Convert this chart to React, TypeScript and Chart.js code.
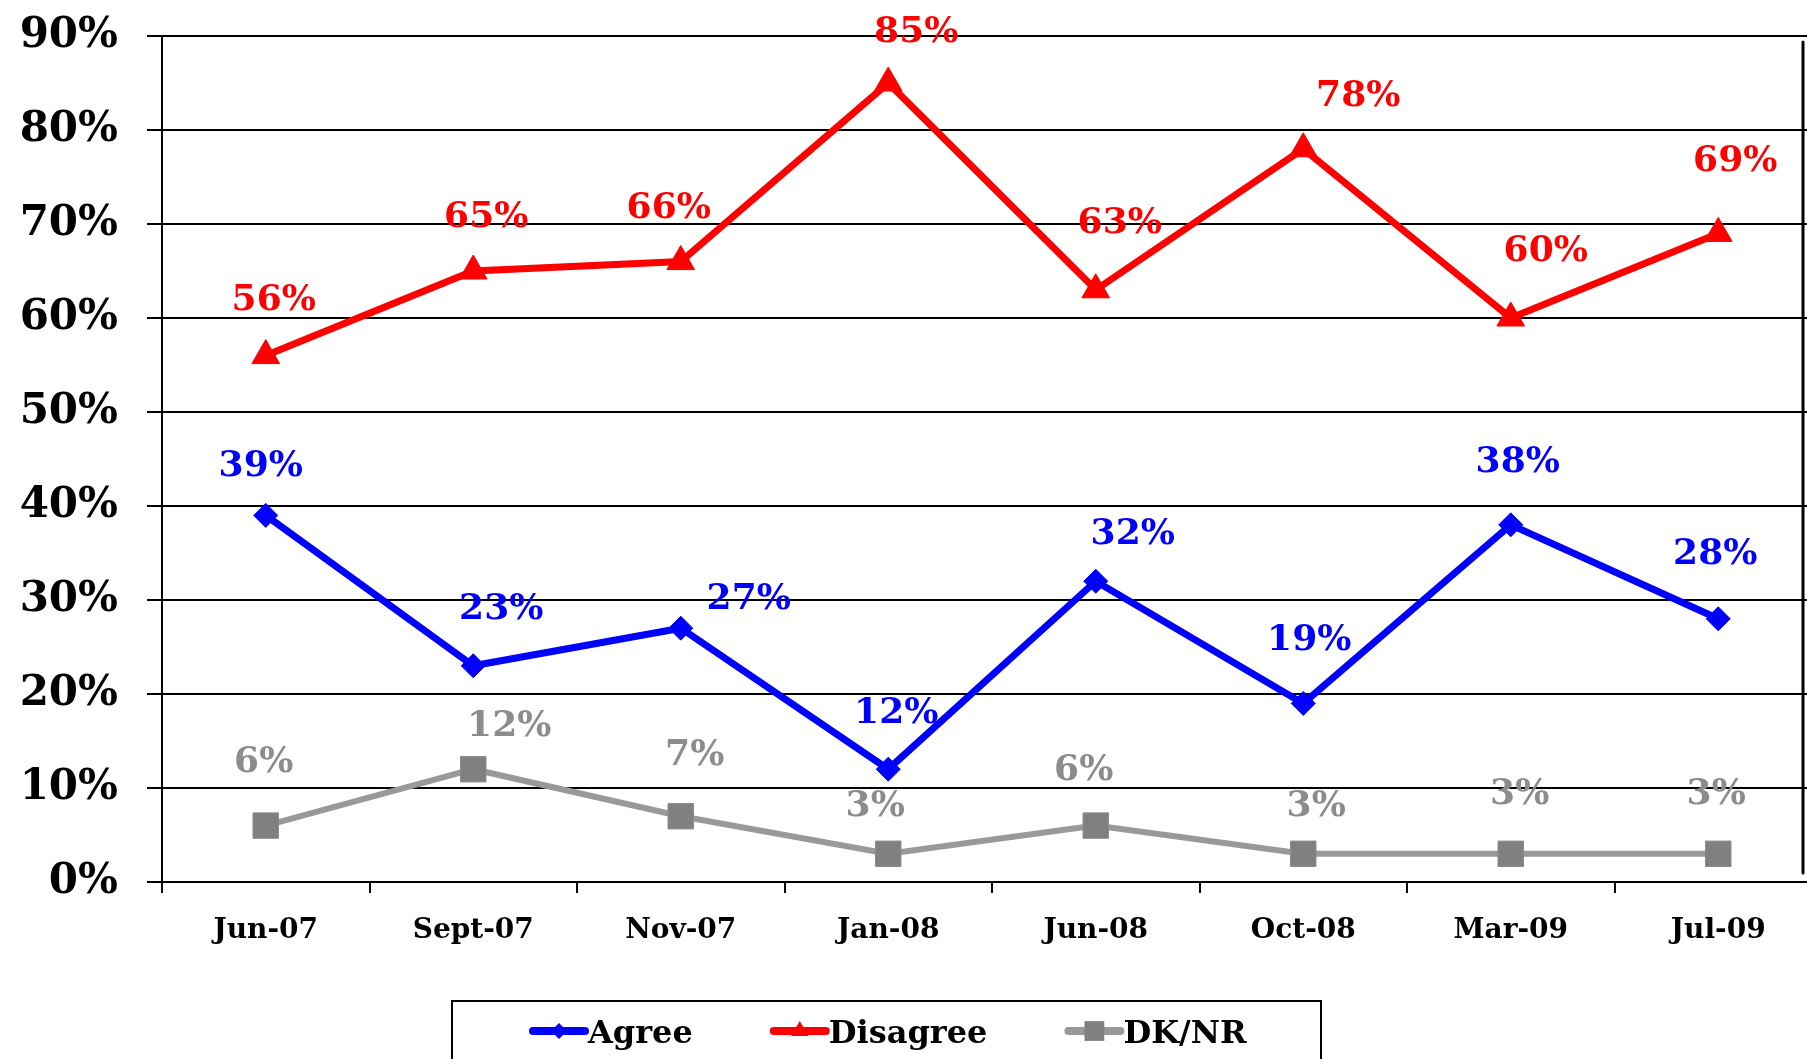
import React, { useEffect, useRef } from 'react';
import { Chart, registerables } from 'chart.js';

Chart.register(...registerables);

const FONT = "'DejaVu Serif', 'Liberation Serif', serif";

// ---- data ----
const categories = ['Jun-07', 'Sept-07', 'Nov-07', 'Jan-08', 'Jun-08', 'Oct-08', 'Mar-09', 'Jul-09'];
const agreeValues = [39, 23, 27, 12, 32, 19, 38, 28];
const disagreeValues = [56, 65, 66, 85, 63, 78, 60, 69];
const dkValues = [6, 12, 7, 3, 6, 3, 3, 3];
const seriesNames = ['Agree', 'Disagree', 'DK/NR'];
const yMin = 0;
const yMax = 90;
const yStep = 10;

// ---- label nudges (style only) ----
const agreeLabelNudge = [[-5, -49], [28, -56], [68, -29], [8, -56], [37, -47], [6, -63], [7, -62], [-3, -64]];
const disagreeLabelNudge = [[8, -55], [13, -53], [-12, -53], [28, -50], [24, -66], [55, -52], [35, -66], [17, -72]];
const dkLabelNudge = [[-2, -63], [36, -43], [14, -61], [-13, -47], [-12, -55], [13, -47], [9, -59], [-2, -59]];

const CANVAS_W = 1841;
const CANVAS_H = 1059;

const dataLabelPlugin = {
  id: 'dataLabels',
  afterDatasetsDraw(chart: any) {
    const ctx = chart.ctx;
    ctx.save();
    ctx.font = `bold 36px ${FONT}`;
    ctx.textAlign = 'center';
    ctx.textBaseline = 'middle';
    chart.data.datasets.forEach((ds: any, di: number) => {
      const meta = chart.getDatasetMeta(di);
      ctx.fillStyle = ds.labelColor;
      meta.data.forEach((pt: any, i: number) => {
        const n = ds.labelNudge[i] || [0, -50];
        ctx.fillText(`${ds.data[i]}%`, pt.x + n[0], pt.y + n[1]);
      });
    });
    ctx.restore();
  },
};

function drawMarker(ctx: CanvasRenderingContext2D, style: string, x: number, y: number, r: number, color: string) {
  ctx.fillStyle = color;
  ctx.beginPath();
  if (style === 'rectRot') {
    ctx.moveTo(x - r, y);
    ctx.lineTo(x, y - r);
    ctx.lineTo(x + r, y);
    ctx.lineTo(x, y + r);
  } else if (style === 'triangle') {
    ctx.moveTo(x, y - r);
    ctx.lineTo(x + r * 0.866, y + r * 0.5);
    ctx.lineTo(x - r * 0.866, y + r * 0.5);
  } else {
    const s = r * 0.7071;
    ctx.rect(x - s, y - s, 2 * s, 2 * s);
  }
  ctx.closePath();
  ctx.fill();
}

const legendPlugin = {
  id: 'boxLegend',
  afterDraw(chart: any) {
    const ctx = chart.ctx;
    ctx.save();
    const boxX = 452;
    const boxY = 1001;
    const boxW = 869;
    ctx.strokeStyle = '#000';
    ctx.lineWidth = 2;
    ctx.strokeRect(boxX, boxY, boxW, 90);
    ctx.font = `bold 32px ${FONT}`;
    ctx.textBaseline = 'alphabetic';
    ctx.textAlign = 'left';
    let x = boxX + 78;
    const cy = 1031;
    chart.data.datasets.forEach((ds: any) => {
      const lineLen = 58;
      ctx.strokeStyle = ds.borderColor;
      ctx.lineWidth = 8;
      ctx.lineCap = 'round';
      ctx.beginPath();
      ctx.moveTo(x + 3, cy);
      ctx.lineTo(x + lineLen - 3, cy);
      ctx.stroke();
      drawMarker(ctx, ds.pointStyle, x + lineLen / 2, cy, ds.legendMarker, ds.pointBackgroundColor);
      ctx.fillStyle = '#000';
      ctx.fillText(ds.label, x + lineLen, 1043);
      x += lineLen + ctx.measureText(ds.label).width + 78;
    });
    // right frame line
    ctx.strokeStyle = '#000';
    ctx.lineWidth = 3;
    ctx.beginPath();
    ctx.moveTo(1803, 42);
    ctx.lineTo(1803, 873);
    ctx.stroke();
    ctx.restore();
  },
};

export default function App() {
  const canvasRef = useRef<HTMLCanvasElement | null>(null);

  useEffect(() => {
    if (!canvasRef.current) return;
    const chart = new Chart(canvasRef.current, {
      type: 'line',
      data: {
        labels: categories,
        datasets: [
          {
            label: seriesNames[0],
            data: agreeValues,
            borderColor: '#0000FF',
            backgroundColor: '#0000FF',
            pointBackgroundColor: '#0000FF',
            pointBorderColor: '#0000FF',
            pointStyle: 'rectRot',
            pointRadius: 12,
            pointBorderWidth: 1,
            borderWidth: 7,
            tension: 0,
            labelColor: '#0000FF',
            labelNudge: agreeLabelNudge,
            legendMarker: 8,
          } as any,
          {
            label: seriesNames[1],
            data: disagreeValues,
            borderColor: '#FF0000',
            backgroundColor: '#FF0000',
            pointBackgroundColor: '#FF0000',
            pointBorderColor: '#FF0000',
            pointStyle: 'triangle',
            pointRadius: 16,
            pointBorderWidth: 1,
            borderWidth: 7,
            tension: 0,
            labelColor: '#FF0000',
            labelNudge: disagreeLabelNudge,
            legendMarker: 10,
          } as any,
          {
            label: seriesNames[2],
            data: dkValues,
            borderColor: '#999999',
            backgroundColor: '#808080',
            pointBackgroundColor: '#808080',
            pointBorderColor: '#8C8C8C',
            pointStyle: 'rect',
            pointRadius: 18,
            pointBorderWidth: 1,
            borderWidth: 6,
            tension: 0,
            labelColor: '#8C8C8C',
            labelNudge: dkLabelNudge,
            legendMarker: 14,
          } as any,
        ],
      },
      options: {
        responsive: false,
        maintainAspectRatio: false,
        animation: false,
        layout: { padding: { top: 36, left: 0, right: 0, bottom: 0 } },
        plugins: {
          legend: { display: false },
          tooltip: { enabled: false },
        },
        scales: {
          x: {
            type: 'category',
            offset: true,
            grid: {
              display: true,
              drawOnChartArea: false,
              drawTicks: true,
              tickLength: 11,
              color: '#000',
              lineWidth: 2,
              offset: true,
            },
            border: { display: true, color: '#000', width: 2 },
            ticks: {
              color: '#000',
              padding: 21,
              maxRotation: 0,
              autoSkip: false,
              font: { family: FONT, size: 28, weight: 'bold' },
            },
            afterFit: (s: any) => {
              s.height = 177;
              s.paddingLeft = 0;
              s.paddingRight = 0;
            },
          },
          y: {
            min: yMin,
            max: yMax,
            grid: {
              color: '#000',
              lineWidth: 2,
              drawTicks: true,
              tickLength: 15,
            },
            border: { display: true, color: '#000', width: 2 },
            ticks: {
              stepSize: yStep,
              color: '#000',
              padding: 29,
              font: { family: FONT, size: 42, weight: 'bold' },
              callback: (v: any) => `${v}%`,
            },
            afterFit: (s: any) => {
              s.width = 162;
              s.paddingTop = 0;
              s.paddingBottom = 0;
            },
          },
        },
      },
      plugins: [dataLabelPlugin, legendPlugin],
    } as any);
    return () => chart.destroy();
  }, []);

  return (
    <div
      style={{
        position: 'absolute',
        left: 0,
        top: 0,
        width: 1807,
        height: 1059,
        overflow: 'hidden',
        background: '#fff',
      }}
    >
      <canvas
        ref={canvasRef}
        width={CANVAS_W}
        height={CANVAS_H}
        style={{ display: 'block', width: CANVAS_W, height: CANVAS_H, maxWidth: 'none' }}
      />
    </div>
  );
}
